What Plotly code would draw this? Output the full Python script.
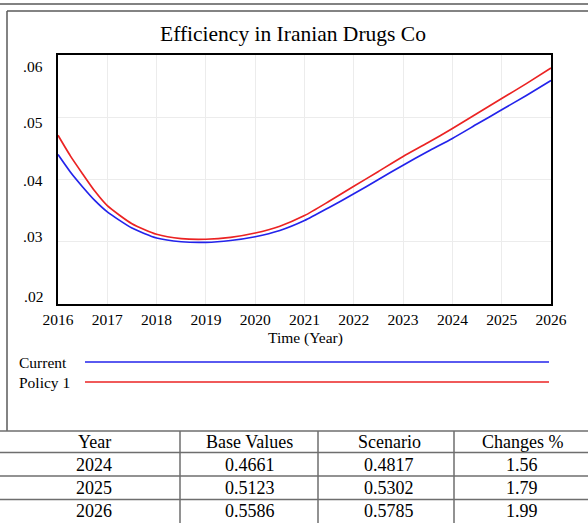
import plotly.graph_objects as go

# ---------------- data ----------------
TIME = [2016.0, 2016.25, 2016.5, 2016.75, 2017.0, 2017.5, 2018.0, 2018.5, 2019.0, 2019.5,
        2020.0, 2020.5, 2021.0, 2021.5, 2022.0, 2022.5, 2023.0, 2023.5, 2024.0, 2024.5,
        2025.0, 2025.5, 2026.0]
CURRENT = [0.0440, 0.0412, 0.0388, 0.0366, 0.0348, 0.0322, 0.0306, 0.0300, 0.0299, 0.0302,
           0.0308, 0.0318, 0.0334, 0.0355, 0.0377, 0.0400, 0.0423, 0.0445, 0.0466, 0.0489,
           0.0512, 0.0535, 0.0559]
POLICY1 = [0.0471, 0.0438, 0.0409, 0.0381, 0.0358, 0.0329, 0.0312, 0.0305, 0.0304, 0.0307,
           0.0314, 0.0325, 0.0342, 0.0365, 0.0389, 0.0413, 0.0437, 0.0459, 0.0482, 0.0506,
           0.0530, 0.0554, 0.0579]
SERIES_NAMES = ["Current", "Policy 1"]
X_TICKS = list(range(2016, 2027))
Y_TICKS = [0.02, 0.03, 0.04, 0.05, 0.06]
Y_TICK_LABELS = [".02", ".03", ".04", ".05", ".06"]
TITLE = "Efficiency in Iranian Drugs Co"
X_TITLE = "Time (Year)"

TABLE_HEADER = ["Year", "Base Values", "Scenario", "Changes %"]
TABLE_YEARS = ["2024", "2025", "2026"]
BASE_VALUES = ["0.4661", "0.5123", "0.5586"]
SCENARIO_VALUES = ["0.4817", "0.5302", "0.5785"]
CHANGES = ["1.56", "1.79", "1.99"]

# ---------------- layout helpers ----------------
W, H = 588, 523
FONT = "Liberation Serif, Times New Roman, serif"
BLUE = "rgb(35,35,235)"
RED = "rgb(235,35,35)"


def px(x):
    return x / W


def py(y):
    return 1 - y / H


fig = go.Figure()
fig.add_trace(go.Scatter(x=TIME, y=CURRENT, mode="lines", name=SERIES_NAMES[0],
                         line=dict(color=BLUE, width=1.7, shape="spline", smoothing=0.6)))
fig.add_trace(go.Scatter(x=TIME, y=POLICY1, mode="lines", name=SERIES_NAMES[1],
                         line=dict(color=RED, width=1.7, shape="spline", smoothing=0.6)))

annotations = []
shapes = []

# title
annotations.append(dict(text=TITLE, x=px(293), y=py(34), xref="paper", yref="paper",
                        showarrow=False, xanchor="center", yanchor="middle",
                        font=dict(family=FONT, size=21.5, color="black")))
# y tick labels (Vensim style, spread evenly inside the frame)
lab_y = [296, 237, 180, 122.5, 66]
for lab, yy in zip(Y_TICK_LABELS, lab_y):
    annotations.append(dict(text=lab, x=px(45), y=py(yy), xref="paper", yref="paper",
                            showarrow=False, xanchor="right", yanchor="middle",
                            font=dict(family=FONT, size=15.5, color="black")))
# x title
annotations.append(dict(text=X_TITLE, x=px(305), y=py(338), xref="paper", yref="paper",
                        showarrow=False, xanchor="center", yanchor="middle",
                        font=dict(family=FONT, size=15.5, color="black")))
# legend
for name, col, yy in zip(SERIES_NAMES, [BLUE, RED], [362, 382]):
    annotations.append(dict(text=name, x=px(17), y=py(yy), xref="paper", yref="paper",
                            showarrow=False, xanchor="left", yanchor="middle",
                            font=dict(family=FONT, size=15.5, color="black")))
    shapes.append(dict(type="line", xref="paper", yref="paper", x0=px(85), x1=px(549),
                       y0=py(yy), y1=py(yy), line=dict(color=col, width=1.7)))

# outer frame lines
shapes.append(dict(type="line", xref="paper", yref="paper", x0=0, x1=1, y0=py(4), y1=py(4),
                   line=dict(color="rgb(130,130,130)", width=2)))
shapes.append(dict(type="line", xref="paper", yref="paper", x0=px(7), x1=1, y0=py(11), y1=py(11),
                   line=dict(color="rgb(90,90,90)", width=1.5)))
shapes.append(dict(type="line", xref="paper", yref="paper", x0=px(7), x1=px(7), y0=py(11), y1=py(431),
                   line=dict(color="rgb(90,90,90)", width=1.5)))

# table
row_lines = [431, 452.5, 476, 499.5]
for yy in row_lines:
    shapes.append(dict(type="line", xref="paper", yref="paper", x0=0, x1=1, y0=py(yy), y1=py(yy),
                       line=dict(color="rgb(110,110,110)", width=1.5)))
col_lines = [180, 318, 454]
for xx in col_lines:
    shapes.append(dict(type="line", xref="paper", yref="paper", x0=px(xx), x1=px(xx),
                       y0=py(431), y1=0, line=dict(color="rgb(110,110,110)", width=1.5)))
col_centers = [94, 250, 389, 522]
row_centers = [442, 465, 488, 511]
rows = [TABLE_HEADER] + [list(r) for r in zip(TABLE_YEARS, BASE_VALUES, SCENARIO_VALUES, CHANGES)]
for r, yy in zip(rows, row_centers):
    for txt, xx in zip(r, col_centers):
        annotations.append(dict(text=txt, x=px(xx), y=py(yy), xref="paper", yref="paper",
                                showarrow=False, xanchor="center", yanchor="middle",
                                font=dict(family=FONT, size=18, color="black")))

fig.update_layout(
    width=W, height=H,
    margin=dict(l=0, r=0, t=0, b=0, autoexpand=False),
    paper_bgcolor="white", plot_bgcolor="white",
    showlegend=False,
    annotations=annotations, shapes=shapes,
    xaxis=dict(domain=[px(58), px(551)], range=[2016, 2026], tickvals=X_TICKS,
               ticktext=[str(t) for t in X_TICKS], showgrid=True, automargin=False,
               gridcolor="rgb(236,236,236)", gridwidth=1, showline=True, mirror=True,
               linecolor="black", linewidth=2, zeroline=False, ticks="",
               tickfont=dict(family=FONT, size=15.5, color="black")),
    yaxis=dict(domain=[py(304), py(55)], range=[0.02, 0.06], tickvals=Y_TICKS,
               showticklabels=False, showgrid=True, gridcolor="rgb(236,236,236)",
               gridwidth=1, showline=True, mirror=True, linecolor="black", linewidth=2,
               zeroline=False, ticks="", automargin=False),
    font=dict(family=FONT),
)

fig.write_html("out.html", config={"displayModeBar": False},
               post_script="document.body.style.margin='0';document.body.style.overflow='hidden';")
